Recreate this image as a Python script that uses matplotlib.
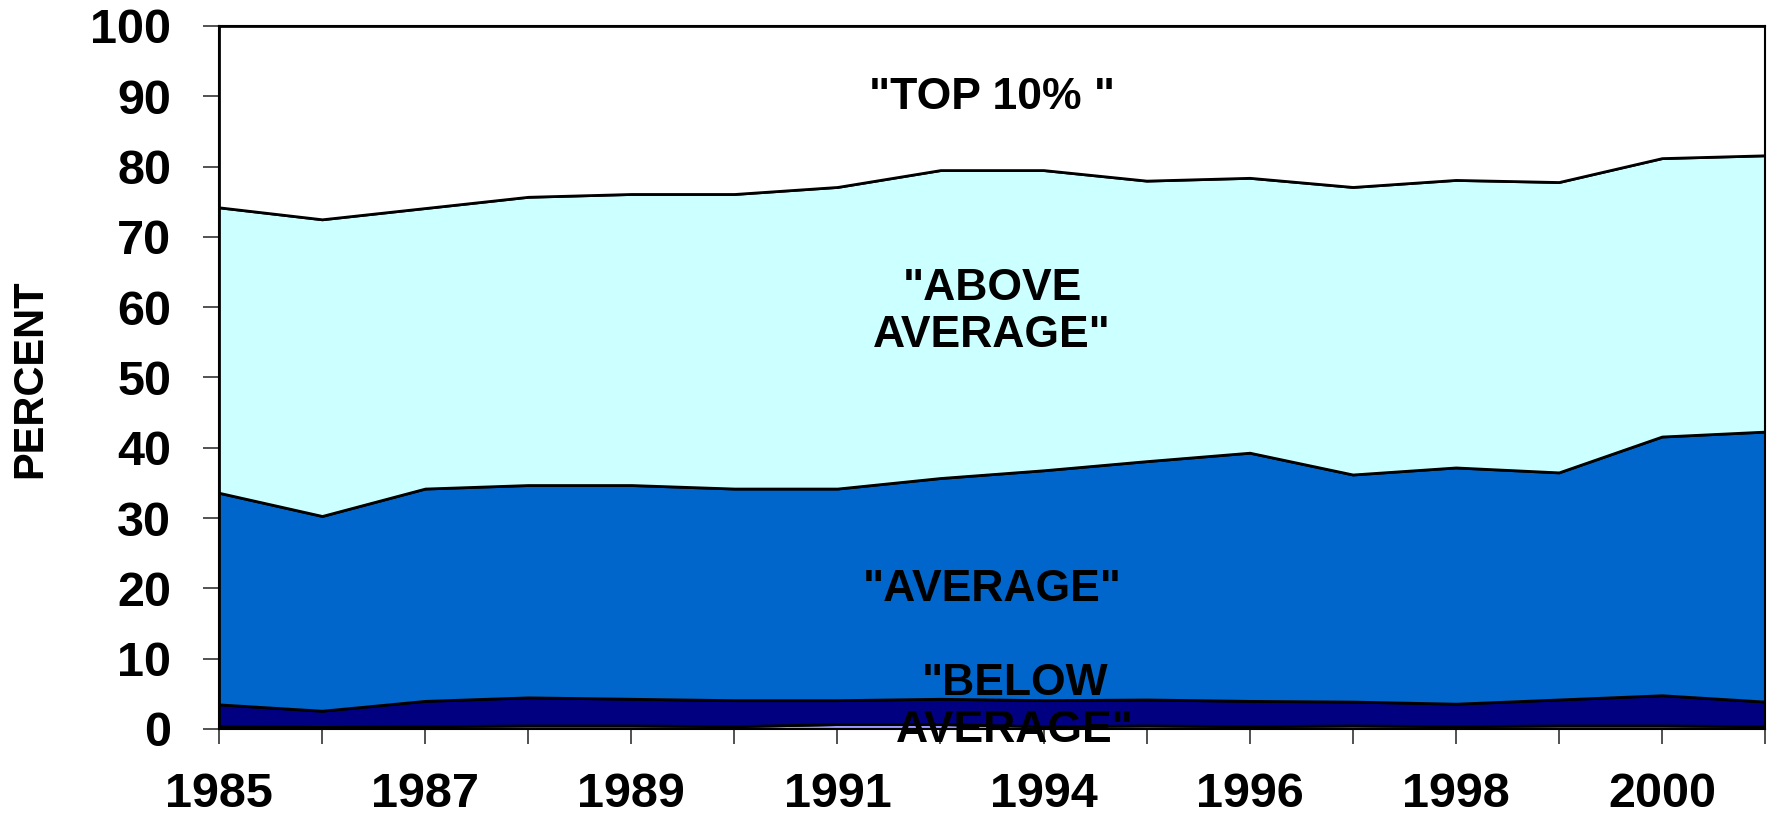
import matplotlib.pyplot as plt

plt.switch_backend('agg')

# years on the category axis (labels only every other year)
years = ['1985', '1986', '1987', '1988', '1989', '1990', '1991', '1993',
         '1994', '1995', '1996', '1997', '1998', '1999', '2000', '2001']

# share of each group, percent
bottom_share = [0.4, 0.3, 0.4, 0.5, 0.5, 0.4, 0.7, 0.7, 0.4, 0.5, 0.4, 0.5, 0.4, 0.5, 0.5, 0.4]
below_avg = [3.1, 2.3, 3.6, 4.0, 3.8, 3.7, 3.4, 3.6, 3.7, 3.7, 3.6, 3.4, 3.2, 3.7, 4.3, 3.5]
average = [30.1, 27.7, 30.2, 30.2, 30.4, 30.1, 30.1, 31.4, 32.7, 33.9, 35.3, 32.3, 33.6, 32.3, 36.8, 38.4]
above_avg = [40.6, 42.2, 39.9, 41.0, 41.4, 41.9, 42.9, 43.8, 42.7, 39.9, 39.1, 40.9, 40.9, 41.3, 39.6, 39.3]
top_10 = [25.8, 27.5, 25.9, 24.3, 23.9, 23.9, 22.9, 20.5, 20.5, 22.0, 21.6, 22.9, 21.9, 22.2, 18.8, 18.4]

layer_colors = ['#9999FF', '#000080', '#0066CC', '#CCFFFF', '#FFFFFF']

FONT = 'Liberation Sans'


def main():
    fig = plt.figure(figsize=(17.76, 8.19), dpi=100)
    ax = fig.add_axes([0.1233, 0.1099, 0.8705, 0.8584])

    x = list(range(len(years)))
    ax.stackplot(x, bottom_share, below_avg, average, above_avg, top_10,
                 colors=layer_colors, edgecolor='black', linewidth=2.0)

    ax.set_xlim(0, len(years) - 1)
    ax.set_ylim(0, 100)

    ax.set_yticks(range(0, 101, 10))
    ax.set_yticklabels([str(v) for v in range(0, 101, 10)],
                       fontsize=35, fontweight='bold', family=FONT)
    ax.set_xticks(x)
    ax.set_xticklabels([y if i % 2 == 0 else '' for i, y in enumerate(years)],
                       fontsize=35, fontweight='bold', family=FONT)
    # tick sizes in points (about 16 and 15 px at 100 dpi)
    ax.tick_params(axis='y', direction='out', length=11.5, width=1.2,
                   color='#333333', pad=23)
    ax.tick_params(axis='x', direction='out', length=10.8, width=1.2,
                   color='#333333', pad=20)

    for side in ax.spines.values():
        side.set_linewidth(1.5)
        side.set_color('black')

    fig.text(30 / 1776, 0.538, 'PERCENT', rotation=90, ha='center',
             va='center', fontsize=30, fontweight='bold', family=FONT)

    label_kw = dict(ha='center', va='center', fontsize=32, fontweight='bold',
                    family=FONT, zorder=10, clip_on=False, linespacing=1.2)
    ax.text(7.5, 89.8, '"TOP 10% "', **label_kw)
    ax.text(7.5, 59.3, '"ABOVE\nAVERAGE"', **label_kw)
    ax.text(7.5, 19.9, '"AVERAGE"', **label_kw)
    ax.text(7.72, 3.1, '"BELOW\nAVERAGE"', **label_kw)

    fig.savefig('out.png', dpi=100)
    plt.close(fig)


if __name__ == "__main__":
    main()
